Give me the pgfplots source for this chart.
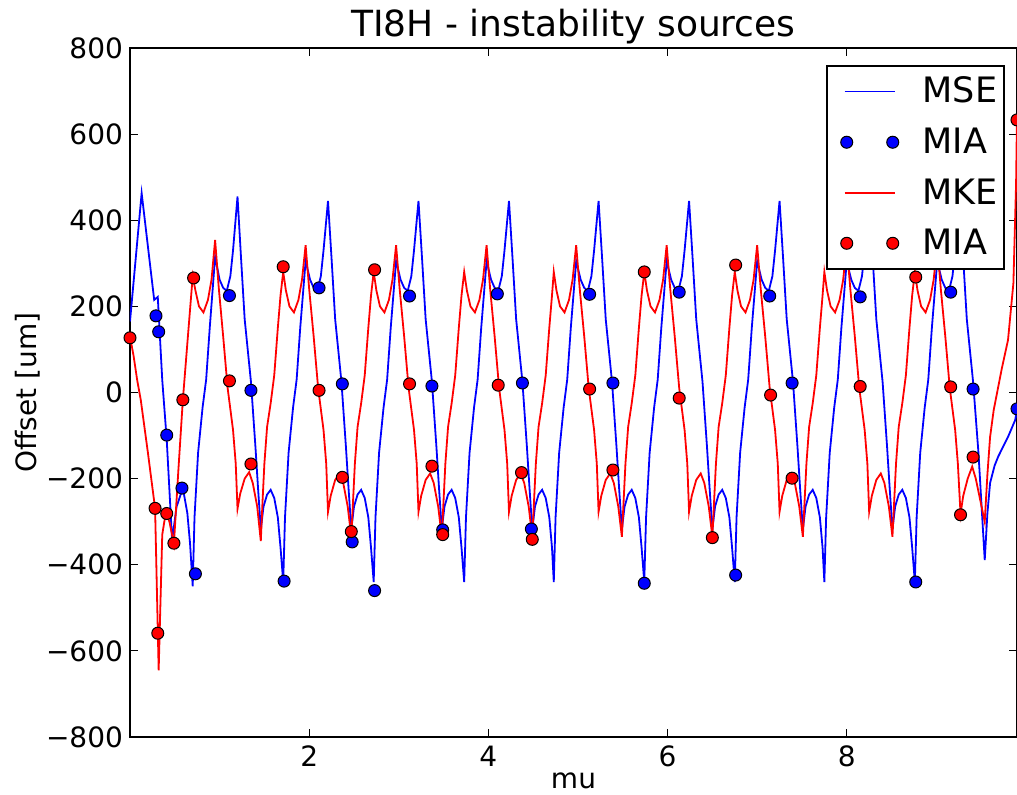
\documentclass[border=0pt]{standalone}
\usepackage{fontspec}
\setmainfont{DejaVu Sans}
\usepackage{pgfplots}
\pgfplotsset{compat=1.18}

\definecolor{mplblue}{RGB}{0,0,255}
\definecolor{mplred}{RGB}{255,0,0}

\newcommand{\tickfont}{\fontsize{14}{16}\selectfont}
\newcommand{\labelfont}{\fontsize{14}{16}\selectfont}
\newcommand{\titlefont}{\fontsize{18}{21}\selectfont}
\newcommand{\legfont}{\fontsize{17.5}{20}\selectfont}

% legend samples: a 25pt line, or two dots 23pt apart; the empty moveto widens the cell on the left
\pgfplotsset{
  linelegend/.style={legend image code/.code={\pgfpathmoveto{\pgfpoint{-8pt}{0pt}}\pgfusepath{discard}\draw[##1] (0pt,0pt) -- (25pt,0pt);}},
  dotlegend/.style={legend image code/.code={\pgfpathmoveto{\pgfpoint{-8pt}{0pt}}\pgfusepath{discard}\draw[##1, only marks] plot coordinates {(1pt,0pt) (24pt,0pt)};}},
}

\begin{document}
\begin{tikzpicture}
\begin{axis}[
  name=ax, at={(0pt,0pt)}, anchor=south west,
  scale only axis, width=443.5pt, height=344.5pt,
  xmin=0, xmax=9.9, ymin=-800, ymax=800,
  xtick={2,4,6,8}, xticklabels={2,4,6,8},
  ytick={-800,-600,-400,-200,0,200,400,600,800},
  yticklabels={−800,−600,−400,−200,0,200,400,600,800},
  tick align=inside, major tick length=4pt,
  tick style={black, line width=0.6pt},
  axis line style={black, line width=1pt},
  ticklabel style={font=\tickfont},
  xticklabel style={yshift=-1pt},
  title={TI8H - instability sources},
  title style={font=\titlefont, at={(0.5,1)}, anchor=base, yshift=-0.5pt},
  xlabel={mu}, ylabel={Offset [um]},
  every axis x label/.style={at={(axis description cs:0.5,0)}, anchor=center, yshift=-22pt, inner sep=1pt, font=\labelfont},
  every axis y label/.style={at={(axis description cs:-0.115,0.5)}, rotate=90, anchor=center, font=\labelfont},
  legend style={at={(0.9865,0.9753)}, anchor=north east, draw=black, line width=1pt, fill=white,
    font=\legfont, row sep=7pt, inner xsep=1pt, inner ysep=3.5pt,
    /tikz/every odd column/.append style={column sep=10pt}},
  legend cell align=left,
]
% MSE
\addplot[color=mplblue, line width=0.9pt, linelegend] coordinates {
(0.00,165) (0.13,463) (0.27,215) (0.31,222) (0.36,29) (0.41,-110) (0.47,-343) (0.52,-265) (0.59,-222) (0.64,-280) (0.67,-350)
(0.70,-450) (0.72,-290) (0.76,-140) (0.81,-35) (0.85,30) (0.89,150) (0.95,315) (1.00,262) (1.04,243) (1.08,236) (1.12,270) (1.15,330) (1.20,455) (1.24,310) (1.28,170) (1.35,25) (1.40,-126) (1.43,-225) (1.46,-318) (1.49,-265) (1.53,-237) (1.57,-226) (1.61,-245) (1.65,-290) (1.68,-360)
(1.71,-440) (1.73,-290) (1.77,-140) (1.82,-35) (1.86,30) (1.90,150) (1.96,305) (2.01,262) (2.05,243) (2.09,236) (2.13,270) (2.16,330) (2.21,445) (2.25,310) (2.29,170) (2.36,25) (2.41,-126) (2.44,-225) (2.47,-318) (2.50,-265) (2.54,-237) (2.58,-226) (2.62,-245) (2.66,-290) (2.69,-360)
(2.72,-440) (2.74,-290) (2.78,-140) (2.83,-35) (2.87,30) (2.91,150) (2.97,305) (3.02,262) (3.06,243) (3.10,236) (3.14,270) (3.17,330) (3.22,445) (3.26,310) (3.30,170) (3.37,25) (3.42,-126) (3.45,-225) (3.48,-318) (3.51,-265) (3.55,-237) (3.59,-226) (3.63,-245) (3.67,-290) (3.70,-360)
(3.73,-440) (3.75,-290) (3.79,-140) (3.84,-35) (3.88,30) (3.92,150) (3.98,305) (4.03,262) (4.07,243) (4.11,236) (4.15,270) (4.18,330) (4.23,445) (4.27,310) (4.31,170) (4.38,25) (4.43,-126) (4.46,-225) (4.49,-318) (4.52,-265) (4.56,-237) (4.60,-226) (4.64,-245) (4.68,-290) (4.71,-360)
(4.73,-440) (4.75,-290) (4.79,-140) (4.84,-35) (4.88,30) (4.92,150) (4.98,305) (5.03,262) (5.07,243) (5.11,236) (5.15,270) (5.18,330) (5.23,445) (5.27,310) (5.31,170) (5.38,25) (5.43,-126) (5.46,-225) (5.49,-318) (5.52,-265) (5.56,-237) (5.60,-226) (5.64,-245) (5.68,-290) (5.71,-360)
(5.74,-440) (5.76,-290) (5.80,-140) (5.85,-35) (5.89,30) (5.93,150) (5.99,305) (6.04,262) (6.08,243) (6.12,236) (6.16,270) (6.19,330) (6.24,445) (6.28,310) (6.32,170) (6.39,25) (6.44,-126) (6.47,-225) (6.50,-318) (6.53,-265) (6.57,-237) (6.61,-226) (6.65,-245) (6.69,-290) (6.72,-360)
(6.75,-440) (6.77,-290) (6.81,-140) (6.86,-35) (6.90,30) (6.94,150) (7.00,305) (7.05,262) (7.09,243) (7.13,236) (7.17,270) (7.20,330) (7.25,445) (7.29,310) (7.33,170) (7.40,25) (7.45,-126) (7.48,-225) (7.51,-318) (7.54,-265) (7.58,-237) (7.62,-226) (7.66,-245) (7.70,-290) (7.73,-360)
(7.75,-440) (7.77,-290) (7.81,-140) (7.86,-35) (7.90,30) (7.94,150) (8.00,305) (8.05,262) (8.09,243) (8.13,236) (8.17,270) (8.20,330) (8.25,445) (8.29,310) (8.33,170) (8.40,25) (8.45,-126) (8.48,-225) (8.51,-318) (8.54,-265) (8.58,-237) (8.62,-226) (8.66,-245) (8.70,-290) (8.73,-360)
(8.76,-440) (8.78,-290) (8.82,-140) (8.87,-35) (8.91,30) (8.95,150) (9.01,305) (9.06,262) (9.10,243) (9.14,236) (9.18,270) (9.21,330) (9.26,445) (9.30,310) (9.34,170) (9.41,25) (9.47,-140) (9.54,-389) (9.57,-280) (9.60,-210) (9.65,-170) (9.69,-149) (9.80,-103) (9.88,-64) (9.90,-40)
};
\addlegendentry{MSE}
% MIA (blue)
\addplot[only marks, mark=*, mark size=3pt, color=mplblue,
  mark options={fill=mplblue, draw=black, line width=0.5pt}, dotlegend] coordinates {
(0.29,178) (0.32,141) (0.41,-99) (0.58,-222) (0.73,-421) (1.11,225) (1.35,5) (1.72,-438)
(2.11,243) (2.37,20) (2.48,-347) (2.73,-460) (3.12,224) (3.37,15) (3.49,-319)
(4.10,229) (4.38,22) (4.48,-317) (5.13,228) (5.39,22) (5.74,-443) (6.13,233)
(6.76,-424) (7.14,224) (7.39,22) (8.15,222) (8.77,-440) (9.16,233) (9.41,8) (9.90,-38)
};
\addlegendentry{MIA}
% MKE
\addplot[color=mplred, line width=0.9pt, linelegend] coordinates {
(0.00,130) (0.04,85) (0.08,29) (0.12,-17) (0.20,-140) (0.28,-269) (0.32,-645) (0.36,-330) (0.40,-278) (0.44,-300) (0.49,-352) (0.54,-180) (0.59,-17) (0.65,140)
(0.70,270) (0.73,237) (0.77,200) (0.82,186) (0.87,215) (0.91,262) (0.95,354) (0.99,245) (1.04,130) (1.09,10) (1.15,-87) (1.18,-165) (1.20,-270) (1.23,-235) (1.28,-200) (1.33,-185) (1.37,-210) (1.42,-265) (1.46,-345) (1.48,-250) (1.50,-165) (1.53,-80) (1.57,-25) (1.61,40) (1.65,150) (1.68,225)
(1.71,280) (1.74,237) (1.78,200) (1.83,186) (1.88,215) (1.92,262) (1.96,342) (2.00,240) (2.05,130) (2.10,10) (2.16,-87) (2.19,-165) (2.21,-277) (2.24,-240) (2.29,-203) (2.34,-188) (2.38,-210) (2.43,-265) (2.47,-335) (2.49,-250) (2.51,-165) (2.54,-80) (2.58,-25) (2.62,40) (2.66,150) (2.69,225)
(2.72,280) (2.75,237) (2.79,200) (2.84,186) (2.89,215) (2.93,262) (2.97,342) (3.01,240) (3.06,130) (3.11,10) (3.17,-87) (3.20,-165) (3.22,-277) (3.25,-240) (3.30,-203) (3.35,-188) (3.39,-210) (3.44,-265) (3.48,-335) (3.50,-250) (3.52,-165) (3.55,-80) (3.59,-25) (3.63,40) (3.67,150) (3.70,225)
(3.73,280) (3.76,237) (3.80,200) (3.85,186) (3.90,215) (3.94,262) (3.98,342) (4.02,240) (4.07,130) (4.12,10) (4.18,-87) (4.21,-165) (4.23,-277) (4.26,-240) (4.31,-203) (4.36,-188) (4.40,-210) (4.45,-265) (4.49,-335) (4.51,-250) (4.53,-165) (4.56,-80) (4.60,-25) (4.64,40) (4.68,150) (4.71,225)
(4.73,280) (4.76,237) (4.80,200) (4.85,186) (4.90,215) (4.94,262) (4.98,342) (5.02,240) (5.07,130) (5.12,10) (5.18,-87) (5.21,-165) (5.23,-277) (5.26,-240) (5.31,-203) (5.36,-188) (5.40,-210) (5.45,-265) (5.49,-335) (5.51,-250) (5.53,-165) (5.56,-80) (5.60,-25) (5.64,40) (5.68,150) (5.71,225)
(5.74,280) (5.77,237) (5.81,200) (5.86,186) (5.91,215) (5.95,262) (5.99,342) (6.03,240) (6.08,130) (6.13,10) (6.19,-87) (6.22,-165) (6.24,-277) (6.27,-240) (6.32,-203) (6.37,-188) (6.41,-210) (6.46,-265) (6.50,-335) (6.52,-250) (6.54,-165) (6.57,-80) (6.61,-25) (6.65,40) (6.69,150) (6.72,225)
(6.75,280) (6.78,237) (6.82,200) (6.87,186) (6.92,215) (6.96,262) (7.00,342) (7.04,240) (7.09,130) (7.14,10) (7.20,-87) (7.23,-165) (7.25,-277) (7.28,-240) (7.33,-203) (7.38,-188) (7.42,-210) (7.47,-265) (7.51,-335) (7.53,-250) (7.55,-165) (7.58,-80) (7.62,-25) (7.66,40) (7.70,150) (7.73,225)
(7.75,280) (7.78,237) (7.82,200) (7.87,186) (7.92,215) (7.96,262) (8.00,342) (8.04,240) (8.09,130) (8.14,10) (8.20,-87) (8.23,-165) (8.25,-277) (8.28,-240) (8.33,-203) (8.38,-188) (8.42,-210) (8.47,-265) (8.51,-335) (8.53,-250) (8.55,-165) (8.58,-80) (8.62,-25) (8.66,40) (8.70,150) (8.73,225)
(8.76,280) (8.79,237) (8.83,200) (8.88,186) (8.93,215) (8.97,262) (9.01,342) (9.05,240) (9.10,130) (9.15,10) (9.21,-87) (9.24,-165) (9.27,-282) (9.30,-240) (9.35,-200) (9.40,-172) (9.44,-200) (9.49,-250) (9.54,-300) (9.57,-190) (9.60,-103) (9.64,-41) (9.73,55) (9.80,122) (9.86,254) (9.89,486) (9.90,640)
};
\addlegendentry{MKE}
% MIA (red)
\addplot[only marks, mark=*, mark size=3pt, color=mplred,
  mark options={fill=mplred, draw=black, line width=0.5pt}, dotlegend] coordinates {
(0.00,127) (0.28,-269) (0.31,-559) (0.41,-281) (0.49,-350) (0.59,-17) (0.71,266)
(1.11,27) (1.35,-166) (1.71,292) (2.11,5) (2.37,-197) (2.47,-323) (2.73,285)
(3.12,20) (3.37,-171) (3.49,-330) (4.11,17) (4.37,-186) (4.49,-341) (5.13,8)
(5.39,-180) (5.74,280) (6.13,-13) (6.50,-337) (6.76,296) (7.15,-6) (7.39,-199)
(8.15,14) (8.77,268) (9.16,13) (9.27,-284) (9.41,-150) (9.90,633)
};
\addlegendentry{MIA}
\end{axis}
\pgfresetboundingbox
\path[use as bounding box] (-65pt,-28.5pt) rectangle (443.5pt,368.5pt);
\end{tikzpicture}
\end{document}
